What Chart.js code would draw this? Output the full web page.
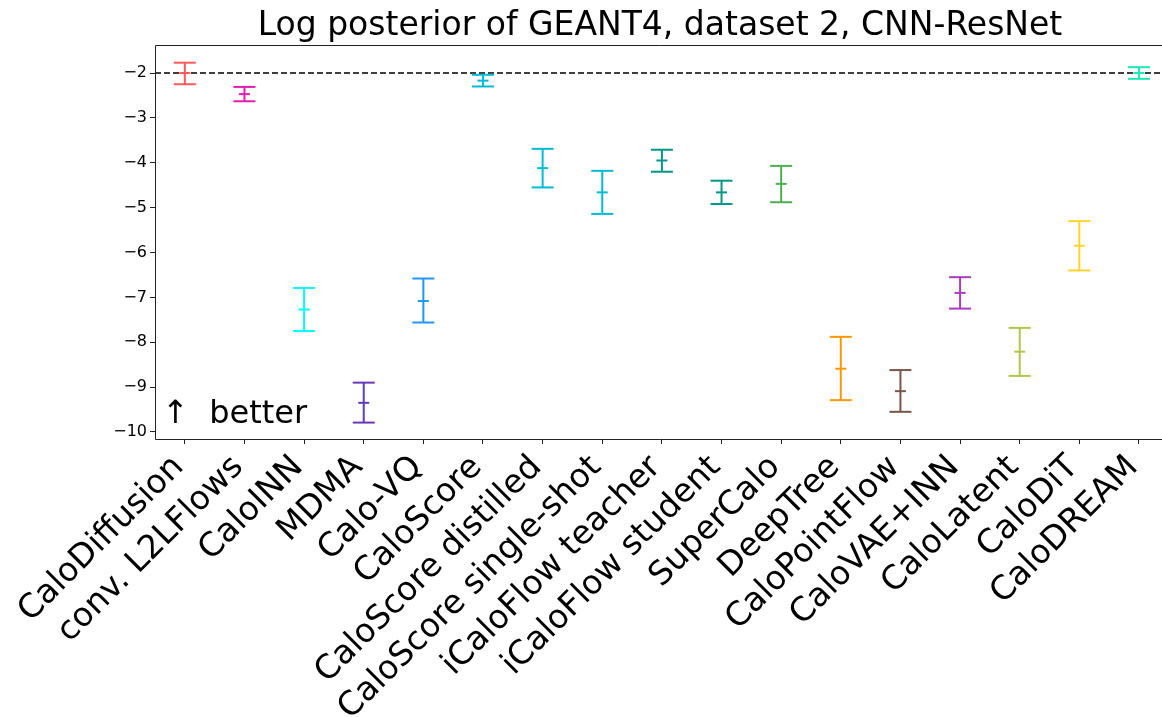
<!DOCTYPE html>
<html>
<head>
<meta charset="utf-8">
<script src="https://cdn.jsdelivr.net/npm/chart.js@4"></script>
<style>
    html, body { margin: 0; padding: 0; background: #fff; }
    #wrap { width: 1162px; height: 717px; }
</style>
</head>
<body>
<div id="wrap"><canvas id="posteriorChart"></canvas></div>
<script>
const models = [
    "CaloDiffusion", "conv. L2LFlows", "CaloINN", "MDMA", "Calo-VQ", "CaloScore",
    "CaloScore distilled", "CaloScore single-shot", "iCaloFlow teacher", "iCaloFlow student",
    "SuperCalo", "DeepTree", "CaloPointFlow", "CaloVAE+INN", "CaloLatent", "CaloDiT", "CaloDREAM",
];
const logPost = [-2.0, -2.47, -7.27, -9.35, -7.08, -2.17, -4.12, -4.66, -3.95, -4.66, -4.47, -8.59, -9.09, -6.9, -8.21, -5.85, -2.0];
const errHigh = [-1.77, -2.31, -6.79, -8.9, -6.58, -2.04, -3.69, -4.18, -3.71, -4.4, -4.07, -7.88, -8.62, -6.55, -7.68, -5.3, -1.87];
const errLow = [-2.25, -2.63, -7.75, -9.79, -7.56, -2.3, -4.55, -5.14, -4.2, -4.92, -4.88, -9.29, -9.55, -7.25, -8.75, -6.4, -2.13];
const colors = [
    "#FF5A5A", "#E21DB0", "#00FFFF", "#673AB7", "#2196F3", "#00BCD4", "#00BCD4", "#00BCD4",
    "#009688", "#009688", "#4CAF50", "#FF9800", "#795548", "#A93BBE", "#B0C846", "#FFD42E", "#1DE9B6",
];
const yTicks = [-10, -9, -8, -7, -6, -5, -4, -3, -2];
const refLine = -2;

const font = "'DejaVu Sans', sans-serif";

// one dataset per model: vertical line with caps at both ends
const errorSets = models.map((m, i) => ({
    type: "line",
    data: [{ x: i, y: errLow[i] }, { x: i, y: errHigh[i] }],
    borderColor: colors[i],
    borderWidth: 2,
    showLine: true,
    pointStyle: "line",
    pointRadius: 11,
    pointBorderWidth: 2,
    pointBorderColor: colors[i],
}));

const textPlugin = {
    id: "texts",
    afterDraw(chart) {
        const ctx = chart.ctx;
        const a = chart.chartArea;
        ctx.save();
        ctx.fillStyle = "#000";
        ctx.font = "33px " + font;
        ctx.textAlign = "center";
        ctx.textBaseline = "alphabetic";
        ctx.fillText("Log posterior of GEANT4, dataset 2, CNN-ResNet", 660, 35);
        ctx.font = "32px " + font;
        ctx.textAlign = "left";
        ctx.fillText("\u2191  better", a.left + 7, a.bottom - 16);
        // spines (left, top, bottom)
        ctx.strokeStyle = "#222";
        ctx.lineWidth = 1;
        ctx.beginPath();
        ctx.moveTo(a.right + 10, a.top + 0.5);
        ctx.lineTo(a.left + 0.5, a.top + 0.5);
        ctx.lineTo(a.left + 0.5, a.bottom + 0.5);
        ctx.lineTo(a.right + 10, a.bottom + 0.5);
        ctx.stroke();
        ctx.restore();
    },
};

new Chart(document.getElementById("posteriorChart"), {
    type: "scatter",
    data: {
        datasets: [
            ...errorSets,
            {
                type: "scatter",
                data: logPost.map((v, i) => ({ x: i, y: v })),
                pointStyle: "line",
                pointRadius: 5.5,
                pointBorderWidth: 2,
                pointBorderColor: colors,
                pointBackgroundColor: colors,
            },
            {
                type: "line",
                data: [{ x: -0.5, y: refLine }, { x: 16.6, y: refLine }],
                borderColor: "#000",
                borderWidth: 1.5,
                borderDash: [6, 3],
                pointRadius: 0,
            },
        ],
    },
    options: {
        responsive: true,
        maintainAspectRatio: false,
        animation: false,
        layout: { autoPadding: false, padding: { top: 45, right: 0, left: 0, bottom: 0 } },
        plugins: {
            legend: { display: false },
            tooltip: { enabled: false },
        },
        scales: {
            x: {
                type: "linear",
                min: -0.5,
                max: 16.386,
                afterBuildTicks: (s) => { s.ticks = models.map((_, i) => ({ value: i })); },
                afterFit: (s) => {
                    s.height = 717 - 439;
                    s.paddingLeft = 0;
                    s.paddingRight = 0;
                },
                grid: { display: true, drawOnChartArea: false, drawTicks: true, tickLength: 5, color: "#222" },
                border: { display: false },
                ticks: {
                    autoSkip: false,
                    minRotation: 45,
                    maxRotation: 45,
                    padding: 4,
                    labelOffset: -6,
                    color: "#000",
                    font: { family: font, size: 33 },
                    callback: (v) => models[v],
                },
            },
            y: {
                min: -10.156,
                max: -1.376,
                afterBuildTicks: (s) => { s.ticks = yTicks.map((v) => ({ value: v })); },
                afterFit: (s) => { s.width = 155; },
                grid: { display: true, drawOnChartArea: false, drawTicks: true, tickLength: 5, color: "#222" },
                border: { display: false },
                ticks: {
                    padding: 3,
                    color: "#000",
                    font: { family: font, size: 16 },
                    callback: (v) => String(v).replace("-", "\u2212"),
                },
            },
        },
    },
    plugins: [textPlugin],
});
</script>
</body>
</html>
